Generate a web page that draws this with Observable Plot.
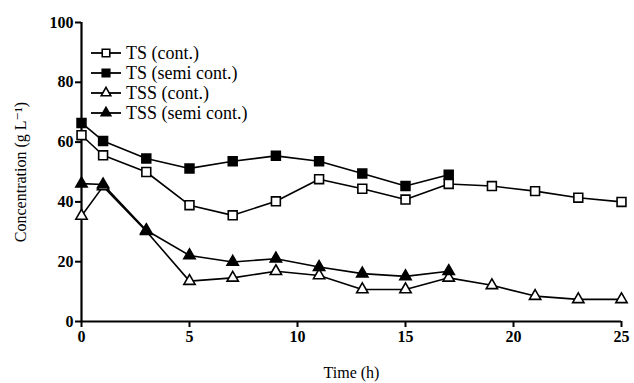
<!DOCTYPE html>
<html><head><meta charset="utf-8">
<script src="https://cdn.jsdelivr.net/npm/d3@7"></script>
<script src="https://cdn.jsdelivr.net/npm/@observablehq/plot@0.6"></script>
<style>
body{margin:0;background:#fff;}
#chart{position:relative;width:634px;height:383px;}
</style></head><body><div id="chart"></div>
<script>
const timeCont = [0,1,3,5,7,9,11,13,15,17,19,21,23,25];
const timeSemi = [0,1,3,5,7,9,11,13,15,17];
const tsCont = [62.3,55.6,50.0,38.9,35.5,40.2,47.6,44.4,40.8,46.0,45.3,43.6,41.4,40.0];
const tsSemi = [66.4,60.4,54.5,51.2,53.6,55.4,53.6,49.5,45.3,49.1];
const tssCont = [35.3,45.2,30.2,13.5,14.6,16.8,15.4,10.7,10.7,14.6,12.1,8.5,7.4,7.4];
const tssSemi = [46.1,45.8,30.5,22.1,19.9,21.0,18.2,16.0,15.1,16.8];
const seriesNames = ["TS (cont.)","TS (semi cont.)","TSS (cont.)","TSS (semi cont.)"];
const xTicks = [0,5,10,15,20,25];
const yTicks = [0,20,40,60,80,100];
const xLabel = "Time (h)";
const yLabel = "Concentration (g L\u207B\u00B9)";

const FONT = "Liberation Serif, Times New Roman, Times, DejaVu Serif, serif";
const seriesDefs = [
  {name: seriesNames[0], t: timeCont, v: tsCont, symbol: "square", fill: "white"},
  {name: seriesNames[1], t: timeSemi, v: tsSemi, symbol: "square", fill: "black"},
  {name: seriesNames[2], t: timeCont, v: tssCont, symbol: "triangle", fill: "white"},
  {name: seriesNames[3], t: timeSemi, v: tssSemi, symbol: "triangle", fill: "black"}
];
const rSym = {square: 5.0, triangle: 4.2};
const rows = seriesDefs.flatMap(s => s.t.map((t, i) => ({series: s.name, t, v: s.v[i]})));

const marks = [];
for (const s of seriesDefs) {
  const d = rows.filter(r => r.series === s.name);
  marks.push(Plot.line(d, {x: "t", y: "v", stroke: "black", strokeWidth: 1.6}));
}
for (const s of seriesDefs) {
  const d = rows.filter(r => r.series === s.name);
  marks.push(Plot.dot(d, {x: "t", y: "v", symbol: () => s.symbol, r: rSym[s.symbol], fill: s.fill, stroke: "black", strokeWidth: 1.6}));
}

const plot = Plot.plot({
  width: 634, height: 383,
  marginLeft: 81, marginRight: 13, marginTop: 22, marginBottom: 62,
  style: {fontFamily: FONT, fontSize: "16px", color: "black", background: "white", overflow: "visible"},
  symbol: {type: "identity"},
  x: {domain: [0, 25]},
  y: {domain: [0, 100]},
  marks: [
    Plot.axisX({ticks: xTicks, tickSize: 6, tickPadding: 3, strokeWidth: 2, fontSize: 16, fontWeight: 600, label: null}),
    Plot.axisY({ticks: yTicks, tickSize: 6, tickPadding: 2, strokeWidth: 2, fontSize: 16, fontWeight: 600, label: null}),
    Plot.axisX({ticks: [], tickSize: 0, label: xLabel, labelAnchor: "center", labelOffset: 56, labelArrow: "none", fontSize: 16}),
    Plot.axisY({ticks: [], tickSize: 0, label: yLabel, labelAnchor: "center", labelOffset: 67, labelArrow: "none", fontSize: 16}),
    Plot.ruleX([0], {strokeWidth: 2.2}),
    Plot.ruleY([0], {strokeWidth: 2.2}),
    ...marks
  ]
});
const chart = document.getElementById("chart");
chart.appendChild(plot);

// legend overlay
const leg = d3.select(chart).append("svg").attr("width", 634).attr("height", 383)
  .style("position", "absolute").style("left", "0px").style("top", "0px");
const sym = {square: d3.symbolSquare, triangle: d3.symbolTriangle};
seriesDefs.forEach((s, i) => {
  const y = 53 + i * 20;
  const g = leg.append("g").attr("transform", `translate(0,${y})`);
  g.append("line").attr("x1", 91).attr("x2", 121).attr("y1", 0).attr("y2", 0).attr("stroke", "black").attr("stroke-width", 1.8);
  const rr = rSym[s.symbol] * 0.85;
  g.append("path").attr("d", d3.symbol(sym[s.symbol], Math.PI * rr * rr)()).attr("transform", "translate(106,0)")
    .attr("fill", s.fill).attr("stroke", "black").attr("stroke-width", 1.6);
  g.append("text").attr("x", 126).attr("y", 0).attr("dy", "0.35em").attr("font-size", 18)
    .style("font-family", FONT).text(s.name);
});
</script>
</body></html>
